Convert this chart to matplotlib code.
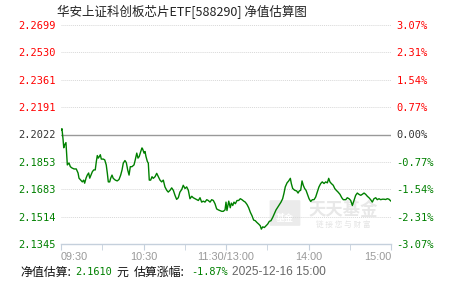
# 华安上证科创板芯片ETF 净值估算图 (intraday NAV estimate)
import matplotlib
matplotlib.use("Agg")
import matplotlib.pyplot as plt
from matplotlib.patches import FancyBboxPatch

# trading minutes since 09:30 (morning 0-120, afternoon 120-240)
minutes = [0.2, 0.7, 1.5, 2.0, 2.7, 3.6, 4.1, 4.6, 5.8, 6.8, 8.0, 9.5, 11.1, 12.4, 13.1, 14.3,
           15.5, 16.5, 17.2, 18.2, 19.1, 20.1, 20.9, 21.8, 22.8, 23.8, 24.9, 25.7, 26.4, 27.1,
           27.9, 28.6, 29.3, 30.8, 31.8, 32.9, 33.7, 34.4, 35.4, 36.1, 37.1, 38.0, 39.5, 40.9,
           42.2, 43.4, 44.4, 45.3, 46.5, 47.5, 48.5, 49.5, 50.4, 51.6, 53.1, 54.0, 55.1, 56.0,
           56.9, 58.0, 58.9, 59.4, 60.4, 61.1, 61.8, 62.8, 63.5, 64.2, 65.2, 66.2, 67.1, 68.4,
           69.6, 70.8, 72.0, 73.2, 74.4, 75.6, 76.9, 78.0, 79.3, 80.5, 81.7, 82.9, 84.1, 85.3,
           86.5, 87.8, 88.9, 90.2, 91.4, 92.6, 93.8, 95.1, 96.2, 97.5, 98.7, 99.9, 101.1, 102.3,
           103.5, 104.7, 106.0, 107.1, 108.4, 109.6, 110.8, 112.0, 113.2, 114.4, 115.6, 116.9,
           118.0, 119.3, 120.0, 120.7, 122.0, 123.1, 123.9, 124.9, 125.8, 126.8, 128.0, 129.2,
           130.4, 131.6, 132.9, 134.0, 135.3, 136.5, 137.7, 138.9, 140.1, 141.3, 142.5, 143.8,
           144.9, 145.7, 146.7, 147.9, 149.1, 150.3, 151.5, 152.7, 154.0, 155.1, 156.4, 157.6,
           158.8, 160.0, 161.2, 162.2, 163.1, 164.4, 165.6, 166.8, 167.5, 168.5, 170.0, 171.4,
           172.4, 173.3, 174.3, 175.3, 176.2, 177.2, 178.2, 179.1, 180.4, 181.6, 182.8, 184.0,
           185.2, 186.4, 187.6, 188.9, 190.0, 191.3, 192.5, 193.7, 194.7, 195.6, 196.6, 198.0,
           199.1, 200.2, 201.5, 202.9, 204.2, 205.3, 207.1, 208.2, 209.5, 210.7, 211.9, 213.1,
           214.3, 215.5, 216.7, 218.0, 219.1, 220.4, 221.6, 222.8, 224.0, 225.2, 226.4, 227.6,
           228.9, 230.0, 231.3, 232.5, 233.7, 234.9, 236.1, 237.3, 238.5, 240.0]

nav = [2.2049, 2.2058, 2.1991, 2.1940, 2.1959, 2.1972, 2.1897, 2.1834, 2.1846, 2.1823, 2.1815,
       2.1809, 2.1809, 2.1784, 2.1752, 2.1740, 2.1729, 2.1740, 2.1721, 2.1752, 2.1771, 2.1784,
       2.1752, 2.1771, 2.1792, 2.1803, 2.1803, 2.1855, 2.1892, 2.1876, 2.1886, 2.1897, 2.1870,
       2.1870, 2.1865, 2.1834, 2.1782, 2.1729, 2.1729, 2.1751, 2.1771, 2.1751, 2.1740, 2.1735,
       2.1744, 2.1771, 2.1803, 2.1845, 2.1861, 2.1848, 2.1803, 2.1771, 2.1823, 2.1823, 2.1834,
       2.1865, 2.1907, 2.1876, 2.1886, 2.1917, 2.1939, 2.1932, 2.1907, 2.1917, 2.1886, 2.1855,
       2.1845, 2.1740, 2.1740, 2.1761, 2.1751, 2.1761, 2.1782, 2.1761, 2.1740, 2.1729, 2.1740,
       2.1698, 2.1677, 2.1666, 2.1677, 2.1692, 2.1677, 2.1646, 2.1621, 2.1631, 2.1666, 2.1682,
       2.1708, 2.1688, 2.1698, 2.1677, 2.1625, 2.1640, 2.1631, 2.1625, 2.1619, 2.1614, 2.1631,
       2.1604, 2.1610, 2.1604, 2.1619, 2.1614, 2.1604, 2.1619, 2.1614, 2.1594, 2.1562, 2.1556,
       2.1552, 2.1547, 2.1547, 2.1556, 2.1604, 2.1552, 2.1610, 2.1569, 2.1598, 2.1583, 2.1604,
       2.1594, 2.1614, 2.1614, 2.1625, 2.1619, 2.1610, 2.1604, 2.1589, 2.1569, 2.1541, 2.1520,
       2.1493, 2.1489, 2.1478, 2.1468, 2.1458, 2.1437, 2.1451, 2.1447, 2.1458, 2.1468, 2.1485,
       2.1489, 2.1510, 2.1531, 2.1556, 2.1572, 2.1589, 2.1604, 2.1625, 2.1660, 2.1698, 2.1723,
       2.1735, 2.1751, 2.1719, 2.1688, 2.1677, 2.1673, 2.1660, 2.1673, 2.1677, 2.1735, 2.1708,
       2.1688, 2.1677, 2.1656, 2.1625, 2.1608, 2.1619, 2.1619, 2.1635, 2.1666, 2.1698, 2.1719,
       2.1729, 2.1719, 2.1729, 2.1723, 2.1751, 2.1729, 2.1719, 2.1708, 2.1688, 2.1677, 2.1666,
       2.1652, 2.1631, 2.1619, 2.1619, 2.1631, 2.1625, 2.1614, 2.1583, 2.1614, 2.1646, 2.1660,
       2.1652, 2.1646, 2.1652, 2.1660, 2.1652, 2.1640, 2.1631, 2.1619, 2.1604, 2.1625, 2.1631,
       2.1619, 2.1625, 2.1619, 2.1622, 2.1622, 2.1620, 2.1625, 2.1622, 2.1610]

prev_nav = 2.2022
nav_labels = ["2.2699", "2.2530", "2.2361", "2.2191", "2.2022", "2.1853", "2.1683", "2.1514", "2.1345"]
pct_labels = ["3.07%", "2.31%", "1.54%", "0.77%", "0.00%", "-0.77%", "-1.54%", "-2.31%", "-3.07%"]
time_ticks = [0, 60, 120, 180, 240]
time_labels = ["09:30", "10:30", "11:30/13:00", "14:00", "15:00"]

title = "华安上证科创板芯片ETF[588290] 净值估算图"
date_text = "2025-12-16 15:00"

RED = "#ff0000"
GREEN = "#008000"
W, H = 451, 281

fig = plt.figure(figsize=(W / 100, H / 100), dpi=100)
ax = fig.add_axes([61 / W, 1 - 244 / H, 330 / W, 219 / H])
ax.patch.set_alpha(0)
ax.set_zorder(2)

# watermark (天天基金)
logo = FancyBboxPatch((271 / W, 1 - 225 / H), 28 / W, 24 / H, boxstyle="round,pad=0.003",
                      transform=fig.transFigure, fc="#ebebeb", ec="none", zorder=0)
fig.patches.append(logo)
fig.text(285 / W, 1 - 219 / H, "基金", color="white", fontsize=6.5, fontweight="bold",
         family="Noto Sans CJK SC", ha="center", va="center", zorder=1)
fig.text(343 / W, 1 - 210 / H, "天天基金", color="#e8e8e8", fontsize=12.5, fontweight="bold",
         family="Noto Sans CJK SC", ha="center", va="center", zorder=1)
fig.text(343 / W, 1 - 225 / H, "链 接 您 与 财 富", color="#e4e4e4", fontsize=5.5,
         family="Noto Sans CJK SC", ha="center", va="center", zorder=1)

lo, hi = float(nav_labels[-1]), float(nav_labels[0])
levels = [float(s) for s in nav_labels]

# dotted grid + solid zero line
for lv in levels[:-1]:
    if lv == prev_nav:
        ax.axhline(lv, color="#999999", lw=1.0, zorder=1)
    else:
        ax.axhline(lv, color="#d8d8d8", lw=0.7, ls=(0, (1, 1)), zorder=1)

ax.plot(minutes, nav, color=GREEN, lw=1.0, zorder=3)

ax.set_xlim(0, 240)
ax.set_ylim(lo, hi)
for s in ["top", "left", "right"]:
    ax.spines[s].set_visible(False)
ax.spines["bottom"].set_color("#c5d0dc")
ax.spines["bottom"].set_linewidth(1.0)

ax.set_xticks(range(0, 241, 30), minor=True)
ax.set_xticks(time_ticks)
ax.set_xticklabels(time_labels, fontsize=7.8, color="#999999", family="Liberation Sans")
ax.tick_params(axis="x", which="both", length=4, color="#c5d0dc", pad=2)
xl = ax.get_xticklabels()
xl[0].set_ha("left")
xl[-1].set_ha("right")

def label_color(v):
    if v > prev_nav:
        return RED
    if v < prev_nav:
        return GREEN
    return "#333333"

ax.set_yticks(levels)
ax.set_yticklabels(nav_labels, fontsize=7.5, family="DejaVu Sans Mono")
ax.tick_params(axis="y", length=0, pad=4)
for t, v in zip(ax.get_yticklabels(), levels):
    t.set_color(label_color(v))

ax2 = ax.twinx()
ax2.set_ylim(lo, hi)
ax2.set_yticks(levels)
ax2.set_yticklabels(pct_labels, fontsize=7.5, family="DejaVu Sans Mono")
ax2.tick_params(axis="y", length=0, pad=4)
for s in ["top", "left", "right", "bottom"]:
    ax2.spines[s].set_visible(False)
for t, v in zip(ax2.get_yticklabels(), levels):
    t.set_color(label_color(v))

# title
fig.text(57 / W, 1 - 12 / H, title, fontsize=9, color="#222222",
         family=["Noto Sans CJK SC", "DejaVu Sans"], ha="left", va="center")

# bottom summary line
last = nav[-1]
chg = (last - prev_nav) / prev_nav * 100
yb = 1 - 272 / H
cjk = ["Noto Sans CJK SC", "DejaVu Sans"]
fig.text(20 / W, yb, "净值估算:", fontsize=8.6, color="#111111", family=cjk, va="center")
fig.text(75 / W, yb, f"{last:.4f}", fontsize=7.4, color=GREEN, family="DejaVu Sans Mono", va="center")
fig.text(116 / W, yb, "元", fontsize=8.6, color="#111111", family=cjk, va="center")
fig.text(134 / W, yb, "估算涨幅:", fontsize=8.6, color="#111111", family=cjk, va="center")
fig.text(191 / W, yb, f"{chg:.2f}%", fontsize=7.4, color=GREEN, family="DejaVu Sans Mono", va="center")
fig.text(232 / W, yb, date_text, fontsize=8.6, color="#666666", family="Liberation Sans", va="center")

fig.savefig("out.png", dpi=100)
